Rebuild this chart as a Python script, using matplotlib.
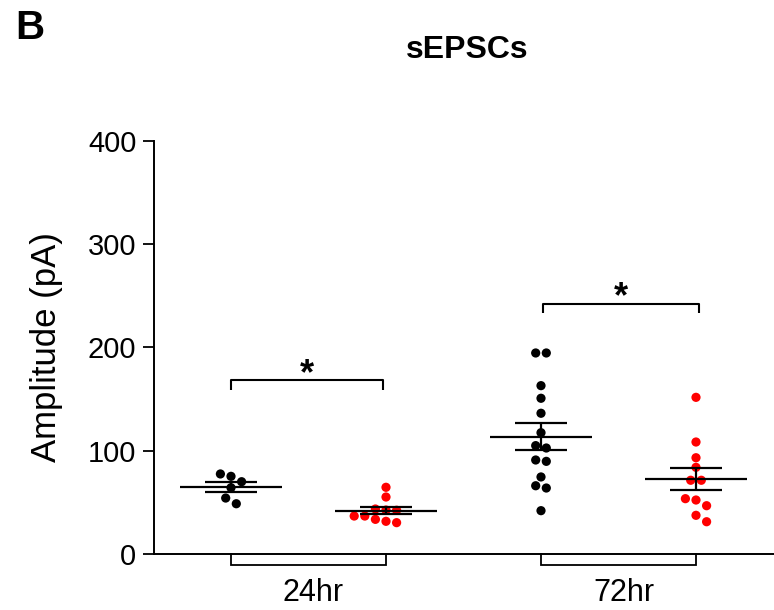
import numpy as np
import matplotlib
matplotlib.use("Agg")
import matplotlib.pyplot as plt
import matplotlib.transforms as mtransforms

plt.rcParams["font.family"] = ["Liberation Sans", "DejaVu Sans"]

# sEPSC amplitudes (pA) per cell
ctrl_24 = [77.7, 75.4, 70.2, 64.4, 54.4, 48.9]
treat_24 = [64.8, 55.4, 43.8, 42.8, 42.6, 37.0, 37.0, 33.8, 31.9, 30.6]
ctrl_72 = [194.7, 194.7, 163.1, 150.9, 136.4, 117.6, 105.1, 102.8,
           89.9, 91.2, 74.8, 66.3, 64.1, 42.2]
treat_72 = [151.8, 108.6, 93.4, 84.1, 71.6, 71.6, 53.8, 52.5, 47.0, 37.7, 31.5]

groups = [ctrl_24, treat_24, ctrl_72, treat_72]
group_colors = ["black", "#ff0000", "black", "#ff0000"]
time_labels = ["24hr", "72hr"]
yticks = [0, 100, 200, 300, 400]

W, H = 774, 610
fig = plt.figure(figsize=(W / 100, H / 100), dpi=100)
ax = fig.add_axes([153.5 / W, 55.7 / H, 620 / W, 413.6 / H])
ax.set_xlim(-0.5, 3.5)
ax.set_ylim(0, 400)


def row_scatter_x(values, center, spacing_px=10.6, diam_px=9.0,
                  gap_thr=5.55, span_thr=8.0):
    """Lay points out in horizontal rows (scatter-dot style), avoiding overlaps.

    Values are grouped into rows from the top down; each row is centred on the
    group position and shifted sideways if it would overlap earlier rows.
    """
    vals = np.asarray(values, dtype=float)
    order = np.argsort(-vals, kind="stable")
    rows, cur = [], [order[0]]
    for i in order[1:]:
        prev = vals[cur[-1]]
        start = vals[cur[0]]
        if prev - vals[i] > gap_thr or start - vals[i] > span_thr:
            rows.append(cur)
            cur = [i]
        else:
            cur.append(i)
    rows.append(cur)

    ypix = ax.transData.transform([(center, v) for v in vals])[:, 1]
    cx = ax.transData.transform((center, 0))[0]
    placed = []
    xoff = np.zeros(len(vals))
    shifts = [0.0]
    for k in range(1, 12):
        shifts += [k * spacing_px / 2, -k * spacing_px / 2]
    for row in rows:
        n = len(row)
        base = (np.arange(n) - (n - 1) / 2) * spacing_px
        for s in shifts:
            cand = base + s
            ok = all((cx_ - px) ** 2 + (ypix[j] - py) ** 2 >= diam_px ** 2
                     for cx_, j in zip(cand, row) for (px, py) in placed)
            if ok:
                break
        for cx_, j in zip(cand, row):
            placed.append((cx_, ypix[j]))
            xoff[j] = cx_
    inv = ax.transData.inverted()
    return np.array([inv.transform((cx + d, 0))[0] for d in xoff])


for pos, (vals, col) in enumerate(zip(groups, group_colors)):
    xs = row_scatter_x(vals, pos)
    ax.scatter(xs, vals, s=44, color=col, edgecolors="none", zorder=2)
    v = np.asarray(vals)
    m = v.mean()
    sem = v.std(ddof=1) / np.sqrt(len(v))
    ax.hlines(m, pos - 0.33, pos + 0.33, color="black", lw=1.6, zorder=3)
    ax.hlines([m - sem, m + sem], pos - 0.165, pos + 0.165, color="black",
              lw=1.6, zorder=3)
    ax.vlines(pos, m - sem, m + sem, color="black", lw=1.6, zorder=3)

# significance brackets
for (x0, x1), top in [((0, 0.98), 168.3), ((2.01, 3.02), 242.0)]:
    leg = 9.0
    ax.plot([x0, x0, x1, x1], [top - leg, top, top, top - leg], color="black",
            lw=1.5, solid_capstyle="butt", zorder=3, clip_on=False)
    ax.annotate("*", xy=((x0 + x1) / 2, top), xytext=(0, -2.5),
                textcoords="offset points", ha="center", va="baseline",
                fontsize=26, fontweight="bold")

# group brackets beneath the x axis
trans = mtransforms.blended_transform_factory(ax.transData, ax.transAxes)
drop = 10.5 / 413.6
for x0, x1 in [(0, 1), (2, 3)]:
    ax.plot([x0, x0, x1, x1], [0, -drop, -drop, 0], transform=trans,
            color="black", lw=1.3, clip_on=False, solid_joinstyle="miter")

ax.set_xticks([0.5, 2.5])
ax.set_xticklabels(time_labels, fontsize=22)
ax.tick_params(axis="x", length=0, pad=17)
nudge = mtransforms.ScaledTranslation(5 / 100, 0, fig.dpi_scale_trans)
for lab in ax.get_xticklabels():
    lab.set_transform(lab.get_transform() + nudge)

ax.set_yticks(yticks)
ax.set_yticklabels([str(t) for t in yticks], fontsize=21)
ax.tick_params(axis="y", length=8, width=1.3, pad=4.3)

for side in ("top", "right"):
    ax.spines[side].set_visible(False)
for side in ("left", "bottom"):
    ax.spines[side].set_linewidth(1.4)

ax.set_ylabel("Amplitude (pA)", fontsize=25)
ax.yaxis.set_label_coords(-0.1455, 0.5)

fig.text(15 / W, 1 - 39.3 / H, "B", fontsize=29, fontweight="bold",
         ha="left", va="baseline")
fig.text(467 / W, 1 - 58.3 / H, "sEPSCs", fontsize=23, fontweight="bold",
         ha="center", va="baseline")

fig.savefig("out.png", dpi=100)
